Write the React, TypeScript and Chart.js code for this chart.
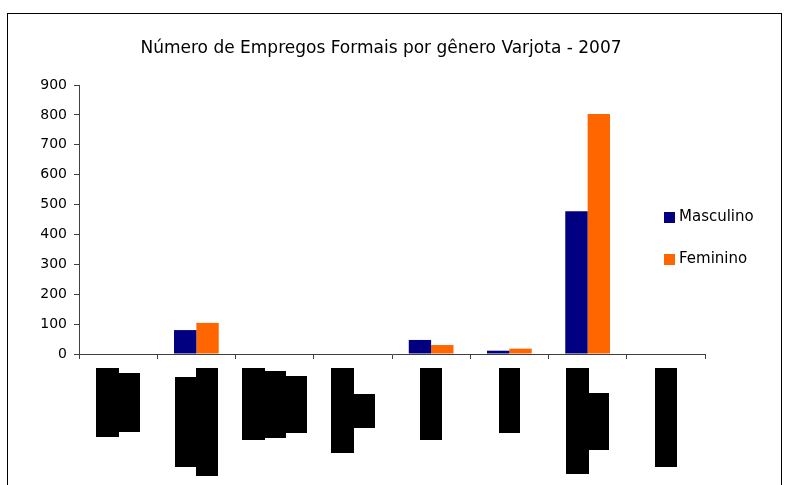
import React, { useEffect, useRef } from 'react';
import { Chart, registerables } from 'chart.js';

Chart.register(...registerables);

// ---- data ----
const categories: string[][] = [
  ['Extrativa', 'mineral'],
  ['Indústria de', 'transformação'],
  ['S. ind. de', 'utilidade', 'pública'],
  ['Construção', 'civil'],
  ['Comércio'],
  ['Serviços'],
  ['Administração', 'pública'],
  ['Agropecuária'],
];
const masculino = [0, 80, 0, 0, 47, 11, 478, 0];
const feminino = [0, 104, 0, 0, 30, 18, 803, 0];
const seriesNames = ['Masculino', 'Feminino'];
const seriesColors = ['#000080', '#FF6600'];
const yMin = 0;
const yMax = 900;
const yStep = 100;
const chartTitle = 'Número de Empregos Formais por gênero Varjota - 2007';

const FONT = '"DejaVu Sans", "Liberation Sans", Arial, sans-serif';
const AXIS = '#404040';

const framePlugin = {
  id: 'frame',
  beforeDraw(chart: any) {
    const ctx = chart.ctx;
    ctx.save();
    ctx.strokeStyle = '#000000';
    ctx.lineWidth = 1;
    ctx.strokeRect(7.5, 13.5, 774, 600);
    ctx.restore();
  },
};

// category labels: rotated multi-line text, redacted with black boxes
const labelPlugin = {
  id: 'blockLabels',
  afterDraw(chart: any) {
    const ctx = chart.ctx;
    const xs = chart.scales.x;
    const top = Math.round(chart.chartArea.bottom + 14);
    const lh = 21.7;
    const pad = 3;
    ctx.save();
    ctx.font = `14px ${FONT}`;
    (chart.data.labels as string[][]).forEach((lines, i) => {
      const cx = xs.getPixelForValue(i);
      const widths = lines.map((t) => Math.round(ctx.measureText(t).width + pad * 2));
      const maxW = Math.max(...widths);
      const n = lines.length;
      lines.forEach((t, j) => {
        const x0 = Math.round(cx - (n * lh) / 2 + j * lh);
        const x1 = Math.round(cx - (n * lh) / 2 + (j + 1) * lh);
        const w = widths[j];
        const y0 = top + Math.round((maxW - w) / 2);
        ctx.fillStyle = '#000000';
        ctx.fillRect(x0, y0, x1 - x0 + (j < n - 1 ? 1 : 0), w);
        ctx.save();
        ctx.translate((x0 + x1) / 2, y0 + w / 2);
        ctx.rotate(-Math.PI / 2);
        ctx.textAlign = 'center';
        ctx.textBaseline = 'middle';
        ctx.fillStyle = '#000000';
        ctx.fillText(t, 0, 0);
        ctx.restore();
      });
    });
    ctx.restore();
  },
};

const legendPlugin = {
  id: 'sideLegend',
  afterDraw(chart: any) {
    const ctx = chart.ctx;
    ctx.save();
    ctx.font = `15px ${FONT}`;
    ctx.textBaseline = 'middle';
    ctx.textAlign = 'left';
    chart.data.datasets.forEach((ds: any, i: number) => {
      const cy = 217.5 + i * 42;
      ctx.fillStyle = ds.backgroundColor;
      ctx.fillRect(664, cy - 5.5, 11, 11);
      ctx.fillStyle = '#000000';
      ctx.fillText(ds.label, 679, cy - 0.5);
    });
    ctx.restore();
  },
};

export default function App() {
  const ref = useRef<HTMLCanvasElement | null>(null);

  useEffect(() => {
    document.body.style.margin = '0';
    document.body.style.overflow = 'hidden';
    const canvas = ref.current;
    if (!canvas) return;
    const chart = new Chart(canvas, {
      type: 'bar',
      data: {
        labels: categories as any,
        datasets: [
          {
            label: seriesNames[0],
            data: masculino,
            backgroundColor: seriesColors[0],
            borderWidth: 0,
            categoryPercentage: 2 / 3.5,
            barPercentage: 1,
          },
          {
            label: seriesNames[1],
            data: feminino,
            backgroundColor: seriesColors[1],
            borderWidth: 0,
            categoryPercentage: 2 / 3.5,
            barPercentage: 1,
          },
        ],
      },
      options: {
        responsive: false,
        animation: false,
        devicePixelRatio: 1,
        layout: { padding: { left: 0, right: 23, top: 0, bottom: 126 } },
        plugins: {
          legend: { display: false },
          tooltip: { enabled: false },
          title: {
            display: true,
            text: chartTitle,
            color: '#000000',
            font: { family: FONT, size: 17, weight: 'normal' },
            padding: { top: 38, bottom: 26.6 },
          },
        },
        scales: {
          x: {
            grid: {
              display: true,
              offset: true,
              drawOnChartArea: false,
              drawTicks: true,
              tickLength: 5,
              color: AXIS,
            },
            border: { display: true, color: AXIS, width: 1 },
            ticks: { display: false },
            afterFit: (s: any) => {
              s.height = 5;
            },
          },
          y: {
            min: yMin,
            max: yMax,
            grid: {
              drawOnChartArea: false,
              drawTicks: true,
              tickLength: 5,
              color: AXIS,
            },
            border: { display: true, color: AXIS, width: 1 },
            ticks: {
              stepSize: yStep,
              color: '#000000',
              padding: 7,
              font: { family: FONT, size: 14 },
            },
            afterFit: (s: any) => {
              s.width = 79;
            },
          },
          y2: {
            position: 'right',
            display: true,
            grid: { display: false, drawTicks: false },
            border: { display: false },
            ticks: { display: false },
            afterFit: (s: any) => {
              s.width = 57;
            },
          },
        },
      } as any,
      plugins: [framePlugin, labelPlugin, legendPlugin],
    });
    return () => chart.destroy();
  }, []);

  return <canvas ref={ref} width={785} height={485} style={{ display: 'block' }} />;
}
